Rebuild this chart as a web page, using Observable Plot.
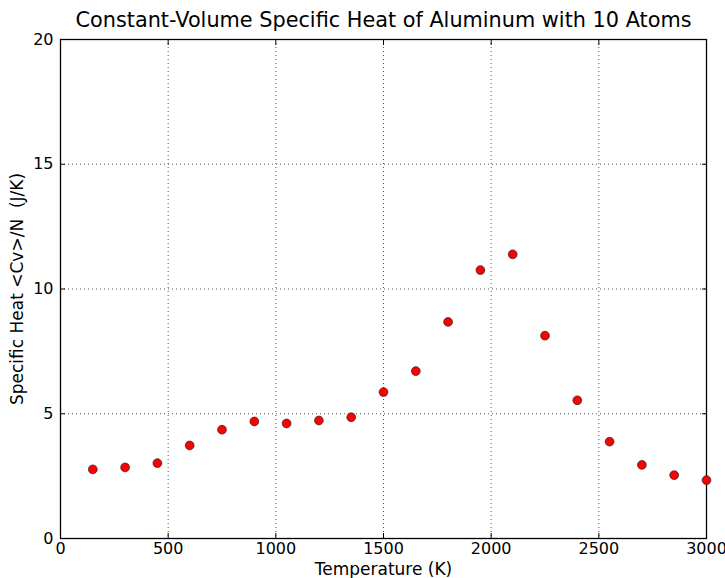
<!DOCTYPE html>
<html>
<head>
<meta charset="utf-8">
<script src="https://cdn.jsdelivr.net/npm/d3@7"></script>
<script src="https://cdn.jsdelivr.net/npm/@observablehq/plot@0.6"></script>
<style>
  html, body { margin: 0; padding: 0; background: #fff; }
  svg { font-family: "DejaVu Sans", sans-serif; }
  svg text { white-space: pre; }
</style>
</head>
<body>
<div id="chart"></div>
<script>
const title = "Constant-Volume Specific Heat of Aluminum with 10 Atoms";
const xLabel = "Temperature (K)";
const yLabel = "Specific Heat <Cv>/N  (J/K)";
const temperatures = [150, 300, 450, 600, 750, 900, 1050, 1200, 1350, 1500, 1650, 1800, 1950, 2100, 2250, 2400, 2550, 2700, 2850, 3000];
const specificHeat = [2.77, 2.85, 3.02, 3.73, 4.36, 4.69, 4.61, 4.73, 4.86, 5.87, 6.71, 8.68, 10.76, 11.39, 8.13, 5.54, 3.88, 2.95, 2.54, 2.34];
const xTicks = [0, 500, 1000, 1500, 2000, 2500, 3000];
const yTicks = [0, 5, 10, 15, 20];
const xGrid = [500, 1000, 1500, 2000, 2500];
const yGrid = [5, 10, 15];

const data = temperatures.map((t, i) => ({t, cv: specificHeat[i]}));

const chart = Plot.plot({
  width: 725,
  height: 578,
  marginTop: 39,
  marginBottom: 40,
  marginLeft: 60,
  marginRight: 19,
  style: {fontFamily: "DejaVu Sans, sans-serif", fontSize: "16px", color: "#000", background: "#fff", overflow: "visible"},
  x: {domain: [0, 3000]},
  y: {domain: [0, 20]},
  marks: [
    Plot.gridX(xGrid, {stroke: "#555", strokeOpacity: 1, strokeWidth: 1, strokeDasharray: "1,3"}),
    Plot.gridY(yGrid, {stroke: "#555", strokeOpacity: 1, strokeWidth: 1, strokeDasharray: "1,3"}),
    Plot.axisX(xTicks, {anchor: "bottom", tickSize: -5, tickPadding: 9, fontSize: 16, tickFormat: d => String(d), label: null}),
    Plot.axisX(xTicks, {anchor: "top", tickSize: -5, tickFormat: () => "", label: null}),
    Plot.axisY(yTicks, {anchor: "left", tickSize: -5, tickPadding: 12, fontSize: 16, tickFormat: d => String(d), label: null}),
    Plot.axisY(yTicks, {anchor: "right", tickSize: -5, tickFormat: () => "", label: null}),
    Plot.frame({stroke: "#000", strokeWidth: 1.3}),
    Plot.dot(data, {x: "t", y: "cv", r: 4.4, fill: "#ff0000", stroke: "#222", strokeWidth: 0.7}),
    Plot.text([title], {frameAnchor: "top", lineAnchor: "middle", textAnchor: "middle", dy: -19, fontSize: 20.8, fill: "#000"}),
    Plot.text([xLabel], {frameAnchor: "bottom", lineAnchor: "middle", textAnchor: "middle", dy: 31, fontSize: 17, fill: "#000"}),
    Plot.text([yLabel], {frameAnchor: "left", lineAnchor: "middle", textAnchor: "middle", dx: -43, rotate: -90, fontSize: 17, fill: "#000"})
  ]
});
document.getElementById("chart").appendChild(chart);
</script>
</body>
</html>
